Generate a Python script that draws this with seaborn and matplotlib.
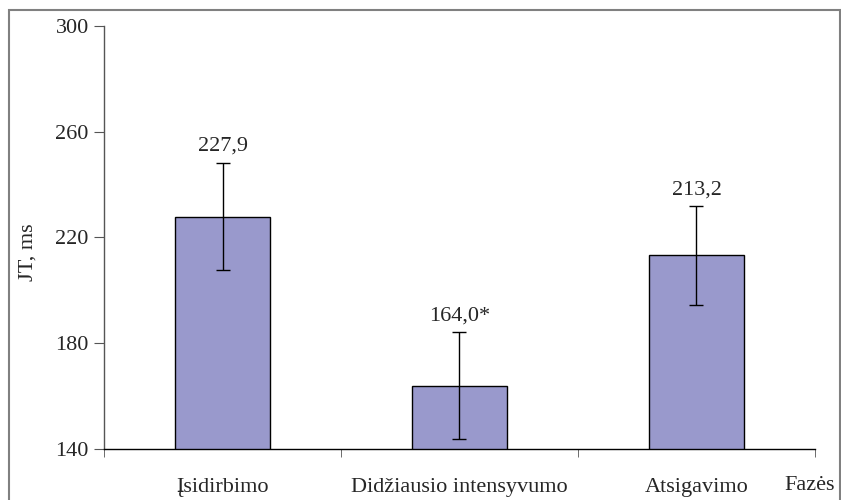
import matplotlib
matplotlib.use("Agg")
import matplotlib.pyplot as plt
import seaborn as sns
import pandas as pd
from matplotlib.patches import Rectangle

# Values
phases = ["Įsidirbimo", "Didžiausio intensyvumo", "Atsigavimo"]
jt_means = [227.9, 164.0, 213.2]
jt_err = [20.3, 20.2, 18.7]
bar_labels = ["227,9", "164,0*", "213,2"]
y_ticks = [140, 180, 220, 260, 300]

df = pd.DataFrame({"phase": phases, "jt": jt_means})

sns.set_style("white")
plt.rcParams["font.family"] = ["Liberation Serif", "DejaVu Serif"]
fs = 16

fig = plt.figure(figsize=(8.41, 5.0), dpi=100)
ax = fig.add_axes([0.1237, 0.102, 0.8453, 0.846])

sns.barplot(data=df, x="phase", y="jt", color="#9999CC", saturation=1,
            width=0.4, edgecolor="black", linewidth=1, ax=ax)
ax.errorbar(range(len(phases)), jt_means, yerr=jt_err, fmt="none",
            ecolor="black", elinewidth=1, capsize=5, capthick=1)

for i, (m, e, lab) in enumerate(zip(jt_means, jt_err, bar_labels)):
    ax.annotate(lab, (i, m + e), xytext=(0, 5), textcoords="offset points",
                ha="center", va="bottom", fontsize=fs)

ax.set_ylim(140, 300)
ax.set_xlim(-0.5, 2.5)
ax.set_yticks(y_ticks)
ax.set_xticks(range(len(phases)))
ax.set_xticklabels(phases)
ax.set_xticks([-0.5, 0.5, 1.5, 2.5], minor=True)
ax.tick_params(axis="x", which="major", length=0, pad=21, labelsize=fs)
ax.tick_params(axis="x", which="minor", length=6, direction="out",
               color="#555555", bottom=True)
ax.tick_params(axis="y", length=7, direction="out", color="#555555",
               left=True, labelsize=fs, pad=4)
ax.set_xlabel("")
ax.set_ylabel("JT, ms", fontsize=fs)
ax.yaxis.set_label_coords(-0.094, 0.466)

for s in ["top", "right"]:
    ax.spines[s].set_visible(False)
ax.spines["left"].set_color("#555555")
ax.spines["bottom"].set_color("black")
ax.spines["left"].set_linewidth(1)
ax.spines["bottom"].set_linewidth(1)

ax.text(0.992, -0.087, "Fazės", transform=ax.transAxes, ha="center",
        va="center", fontsize=fs)

# Outer frame around the figure
fig.patches.append(Rectangle((9 / 841, -0.05), 831 / 841, 0.03 + 1 - 10 / 500 + 0.02,
                             transform=fig.transFigure, fill=False,
                             edgecolor="#808080", linewidth=1.5))

fig.savefig("out.png", dpi=100)
